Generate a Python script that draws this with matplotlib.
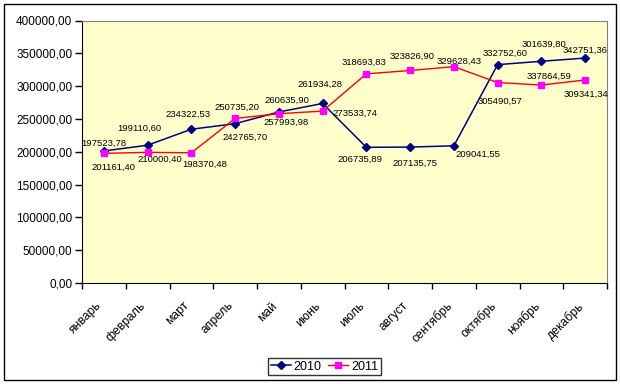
import matplotlib
matplotlib.use("Agg")
import matplotlib.pyplot as plt
from matplotlib.patches import Rectangle
from matplotlib.transforms import ScaledTranslation

months = ["январь", "февраль", "март", "апрель", "май", "июнь", "июль",
          "август", "сентябрь", "октябрь", "ноябрь", "декабрь"]
values_2010 = [201161.40, 210000.40, 234322.53, 242765.70, 260635.90, 273533.74,
               206735.89, 207135.75, 209041.55, 332752.60, 337864.59, 342751.36]
values_2011 = [197523.78, 199110.60, 198370.48, 250735.20, 257993.98, 261934.28,
               318693.83, 323826.90, 329628.43, 305490.57, 301639.80, 309341.34]
yticks = [0, 50000, 100000, 150000, 200000, 250000, 300000, 350000, 400000]

# label offsets in pixels (dx right, dy down) relative to each point
off_2010 = [(10, 16), (12, 14), (-3, -15), (10, 14), (8, -12), (32, 9.5),
            (-6, 12), (5, 16), (24, 8.5), (7, -11), (8, 15), (0, -8)]
off_2011 = [(0, -10.5), (-8, -24.5), (13.5, 11.5), (1.5, -11.5), (7.5, 9), (-3, -27),
            (-2, -11.5), (1.5, -14.5), (5.5, -5.5), (2, 18.5), (3, -40.5), (1, 14.5)]

font = "Liberation Sans"
plt.rcParams["font.family"] = [font, "DejaVu Sans"]

fig = plt.figure(figsize=(6.2, 3.84), dpi=100)
fig.patch.set_facecolor("white")
ax = fig.add_axes([82 / 620, 1 - 283 / 384, 525 / 620, 262.5 / 384])
ax.set_facecolor("#FFFFCC")

x = [i + 0.5 for i in range(len(months))]
ax.plot(x, values_2010, color="#000080", lw=1.1, marker="D", ms=3.8,
        mfc="#000080", mec="#000080", label="2010", zorder=3)
ax.plot(x, values_2011, color="#FF0000", lw=1.0, marker="s", ms=3.8,
        mfc="#FF00FF", mec="#FF00FF", label="2011", zorder=3)

def fmt(v):
    return f"{v:.2f}".replace(".", ",")

for vals, offs in ((values_2010, off_2010), (values_2011, off_2011)):
    for xi, v, (dx, dy) in zip(x, vals, offs):
        ax.annotate(fmt(v), (xi, v), xytext=(dx, -dy), textcoords="offset pixels",
                    ha="center", va="center", fontsize=6.8, color="black",
                    annotation_clip=False, zorder=4)

ax.set_xlim(0, 12)
ax.set_ylim(0, 400000)
ax.set_yticks(yticks)
ax.set_yticklabels([fmt(v) for v in yticks], fontsize=8.5)
ax.tick_params(axis="y", direction="out", length=5, width=1, pad=2)

ax.set_xticks(range(13))
ax.set_xticklabels([])
ax.tick_params(axis="x", which="major", direction="out", length=4, width=1)
ax.set_xticks(x, minor=True)
ax.set_xticklabels(months, minor=True, fontsize=8.7, rotation=45,
                   ha="right", va="top", rotation_mode="anchor")
ax.tick_params(axis="x", which="minor", length=0, pad=12)
offset = ScaledTranslation(-8 / 100, 0, fig.dpi_scale_trans)
for lbl in ax.get_xticklabels(minor=True):
    lbl.set_transform(lbl.get_transform() + offset)

for s in ("top", "right"):
    ax.spines[s].set_color("#808080")
for s in ("left", "bottom"):
    ax.spines[s].set_color("black")

leg = fig.legend(loc="center", bbox_to_anchor=(324.5 / 620, 1 - 366.5 / 384),
                 ncol=2, fontsize=9, frameon=True, fancybox=False,
                 edgecolor="black", handlelength=1.6, handletextpad=0.25,
                 columnspacing=0.5, borderpad=0.2, borderaxespad=0)
leg.get_frame().set_linewidth(1.0)

fig.patches.append(Rectangle((4 / 620, 4 / 384), 612 / 620, 376 / 384,
                             transform=fig.transFigure, fill=False,
                             edgecolor="black", lw=1.0))

fig.savefig("out.png", dpi=100)
